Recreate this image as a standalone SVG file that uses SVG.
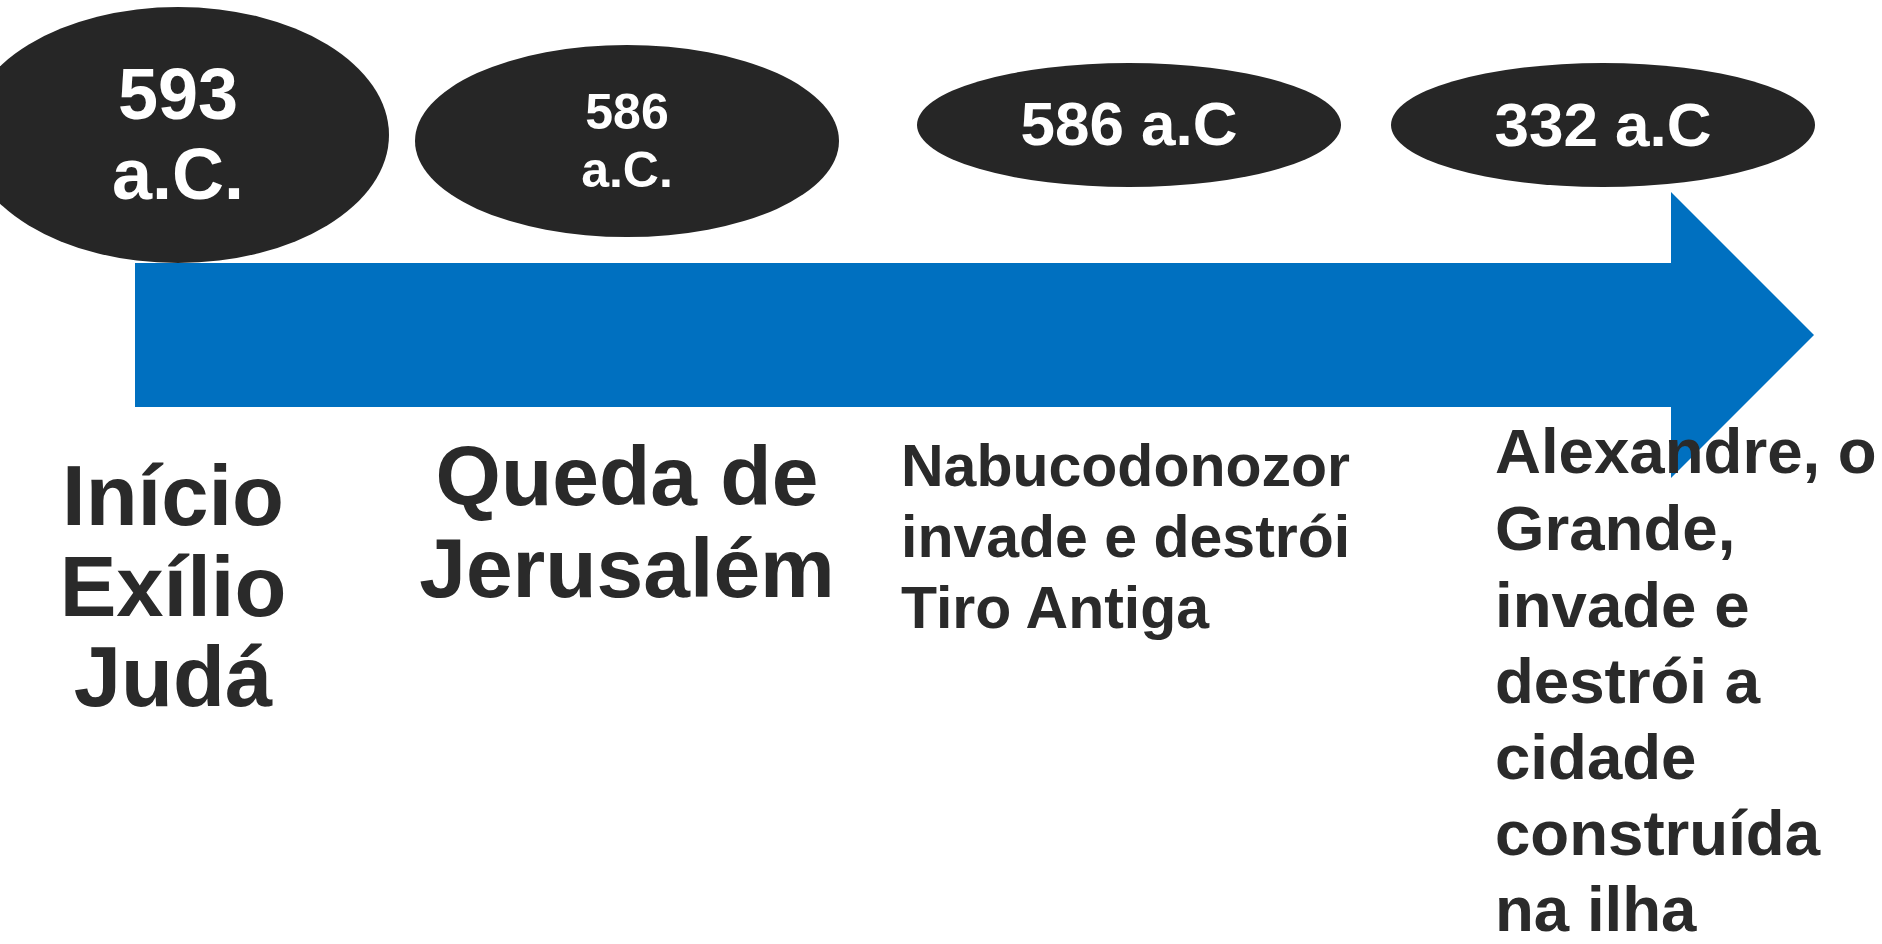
<svg xmlns="http://www.w3.org/2000/svg" width="1882" height="944" viewBox="0 0 1882 944">
  <style>
    .date { fill: #262626; }
    .dt { fill: #ffffff; font-family: "Liberation Sans", Arial, sans-serif; font-weight: bold; text-anchor: middle; }
    .lbl { fill: #2a2a2a; font-family: "Liberation Sans", Arial, sans-serif; font-weight: bold; }
    .c { text-anchor: middle; }
    .arrow { fill: #0070C0; }
  </style>
  <rect x="0" y="0" width="1882" height="944" fill="#ffffff"/>
  <g id="connectors">
    <polygon class="arrow" points="135,263 1671,263 1671,192 1814,335 1671,478 1671,407 135,407"/>
  </g>
  <g id="node-593">
    <ellipse class="date" cx="178" cy="135" rx="211" ry="128"/>
    <text class="dt" x="178" y="119" font-size="72">593</text>
    <text class="dt" x="178" y="199" font-size="72">a.C.</text>
  </g>
  <g id="node-586a">
    <ellipse class="date" cx="627" cy="141" rx="212" ry="96"/>
    <text class="dt" x="627" y="129" font-size="50">586</text>
    <text class="dt" x="627" y="187" font-size="50">a.C.</text>
  </g>
  <g id="node-586b">
    <ellipse class="date" cx="1129" cy="125" rx="212" ry="62"/>
    <text class="dt" x="1129" y="145" font-size="62">586 a.C</text>
  </g>
  <g id="node-332">
    <ellipse class="date" cx="1603" cy="125" rx="212" ry="62"/>
    <text class="dt" x="1603" y="146" font-size="62">332 a.C</text>
  </g>
  <g id="label-inicio">
    <text class="lbl c" x="173" y="525" font-size="85">Início</text>
    <text class="lbl c" x="173" y="616" font-size="85">Exílio</text>
    <text class="lbl c" x="173" y="706" font-size="85">Judá</text>
  </g>
  <g id="label-queda">
    <text class="lbl c" x="627" y="505" font-size="84">Queda de</text>
    <text class="lbl c" x="627" y="597" font-size="84">Jerusalém</text>
  </g>
  <g id="label-nabucodonozor">
    <text class="lbl" x="901" y="486" font-size="59">Nabucodonozor</text>
    <text class="lbl" x="901" y="557" font-size="59">invade e destrói</text>
    <text class="lbl" x="901" y="628" font-size="59">Tiro Antiga</text>
  </g>
  <g id="label-alexandre">
    <text class="lbl" x="1495" y="473" font-size="63.6">Alexandre, o</text>
    <text class="lbl" x="1495" y="550" font-size="63.6">Grande,</text>
    <text class="lbl" x="1495" y="627" font-size="63.6">invade e</text>
    <text class="lbl" x="1495" y="703" font-size="63.6">destrói a</text>
    <text class="lbl" x="1495" y="779" font-size="63.6">cidade</text>
    <text class="lbl" x="1495" y="855" font-size="63.6">construída</text>
    <text class="lbl" x="1495" y="931" font-size="63.6">na ilha</text>
  </g>
</svg>
